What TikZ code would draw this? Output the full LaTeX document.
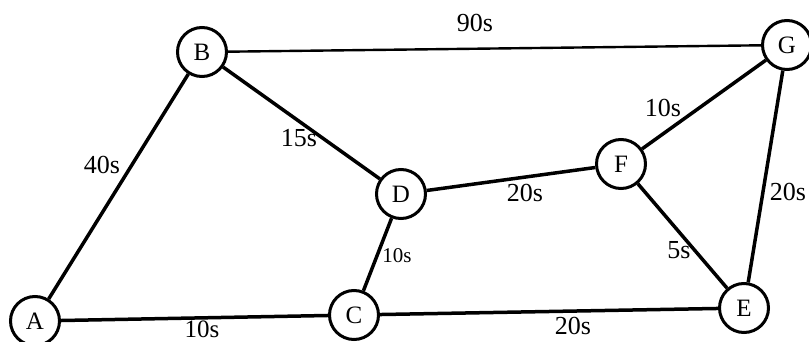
\documentclass[tikz,border=0pt]{standalone}
\usepackage{fontspec}
\setmainfont{Liberation Serif}
\begin{document}
\begin{tikzpicture}[x=1pt,y=-1pt,
  vertex/.style={circle,draw,line width=3pt,minimum size=49pt,inner sep=0pt,fill=white,font=\fontsize{25}{27}\selectfont},
  edge/.style={line width=3.5pt},
  thinedge/.style={line width=2.4pt},
  wlabel/.style={inner sep=0pt,font=\fontsize{26}{28}\selectfont},
  slabel/.style={inner sep=0pt,font=\fontsize{21}{23}\selectfont}]
\useasboundingbox (0,0) rectangle (809,342);
\node[vertex] (A) at (35,321) {A};
\node[vertex] (B) at (202,52) {B};
\node[vertex] (C) at (354,315) {C};
\node[vertex] (D) at (401,194) {D};
\node[vertex] (E) at (744,308) {E};
\node[vertex] (F) at (621,164) {F};
\node[vertex] (G) at (787,45) {G};
\draw[edge] (A) -- (B);
\draw[edge] (A) -- (C);
\draw[edge] (B) -- (D);
\draw[thinedge] (B) -- (G);
\draw[edge] (C) -- (D);
\draw[edge] (C) -- (E);
\draw[edge] (D) -- (F);
\draw[edge] (F) -- (G);
\draw[edge] (F) -- (E);
\draw[edge] (G) -- (E);
\node[wlabel] (l90) at (475,23) {90s};
\node[wlabel] (l40) at (102,165) {40s};
\node[wlabel] (l15) at (299,138) {15s};
\node[wlabel] (l10fg) at (663,108) {10s};
\node[wlabel] (l20df) at (525,193) {20s};
\node[wlabel] (l20ge) at (788,192) {20s};
\node[slabel] (l10dc) at (397,256) {10s};
\node[wlabel] (l5) at (679,250) {5s};
\node[wlabel,font=\fontsize{25}{27}\selectfont] (l10ac) at (202,329) {10s};
\node[wlabel] (l20ce) at (573,326) {20s};
\end{tikzpicture}
\end{document}
